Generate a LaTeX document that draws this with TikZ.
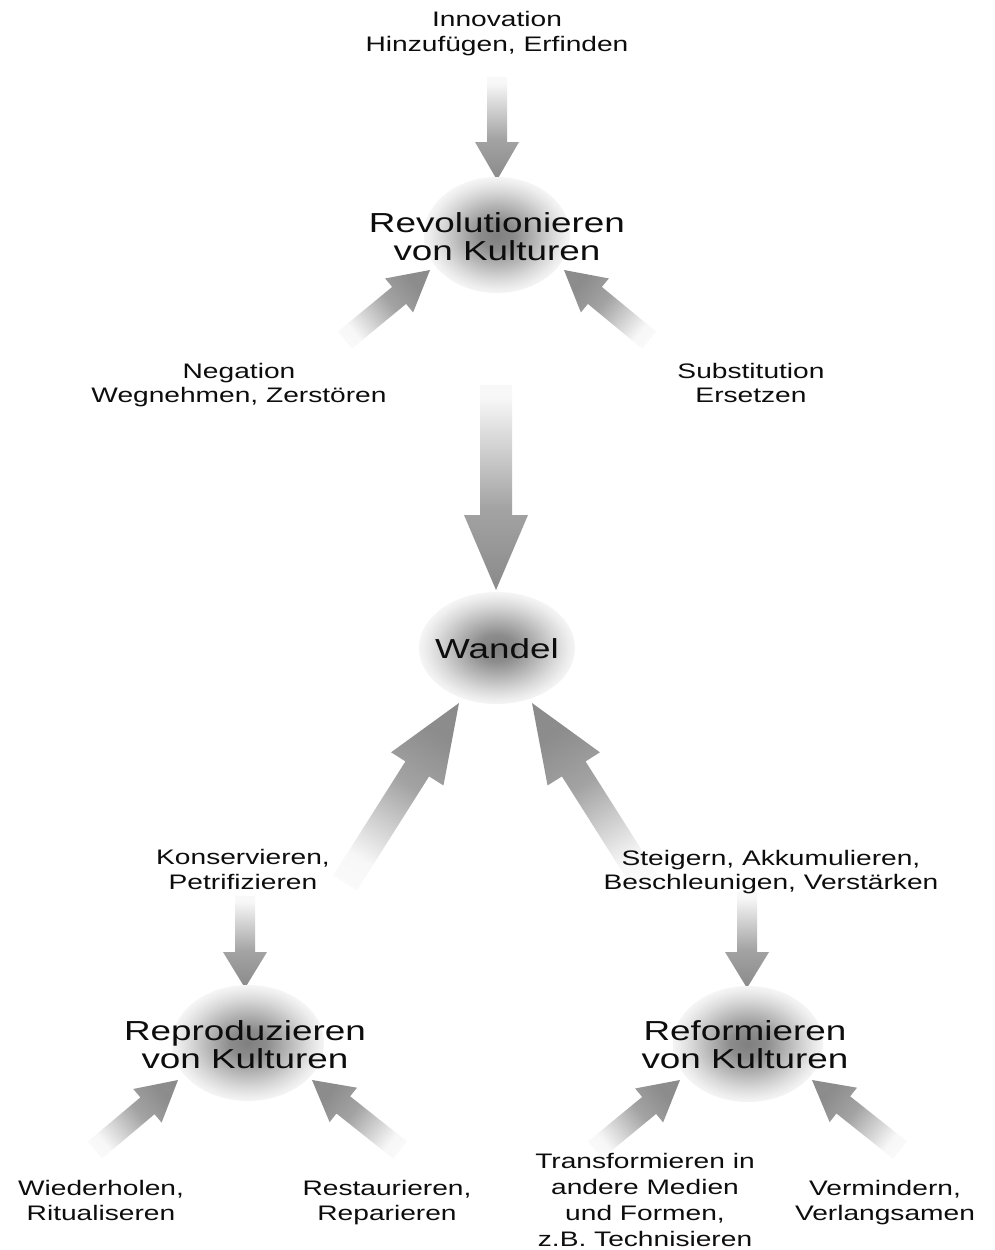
\documentclass[tikz,border=0pt]{standalone}
\usepackage{fontspec}
\setmainfont{Liberation Sans}[FakeStretch=1.34]
\usetikzlibrary{calc}
\pgfdeclareverticalshading{arrowshade}{100bp}{color(0bp)=(black!46); color(27bp)=(black!45); color(45bp)=(black!36); color(72bp)=(black!3); color(100bp)=(white)}
\pgfdeclareradialshading{blobshade}{\pgfpoint{0bp}{0bp}}{color(0bp)=(black!50); color(6bp)=(black!45); color(12.5bp)=(black!30); color(19bp)=(black!15); color(23bp)=(black!7); color(25bp)=(black!4); color(50bp)=(black!4)}
% #1 tail, #2 tip, #3 half shaft width, #4 half head width, #5 head length
\newcommand\fatarrow[5]{%
  \pgfmathanglebetweenpoints{\pgfpointanchor{#1}{center}}{\pgfpointanchor{#2}{center}}%
  \pgfmathsetmacro\fatangle{\pgfmathresult+90}%
  \coordinate (fah) at ($(#2)!#5!(#1)$);
  \shade[shading=arrowshade, shading angle=\fatangle]
    ($(#1)!#3!90:(#2)$) -- ($(fah)!#3!90:(#2)$) -- ($(fah)!#4!90:(#2)$) -- (#2)
    -- ($(fah)!#4!-90:(#2)$) -- ($(fah)!#3!-90:(#2)$) -- ($(#1)!#3!-90:(#2)$) -- cycle;
}
\tikzset{
  lbl/.style={anchor=base, inner sep=0pt, font=\fontsize{21}{25}\selectfont, text=black!95},
  big/.style={anchor=base, inner sep=0pt, font=\fontsize{27.5}{29}\selectfont, text=black!95},
  blob/.style={shading=blobshade},
}
\begin{document}
\begin{tikzpicture}[x=1pt,y=-1pt]
\fill[white] (0,0) rectangle (994,1250);
\useasboundingbox (0,0) rectangle (994,1250);

% arrow end points
\coordinate (innoT) at (497,77);   \coordinate (innoP) at (497,180);
\coordinate (negT) at (345,340);   \coordinate (negP) at (430,270);
\coordinate (subT) at (649,340);   \coordinate (subP) at (564,270);
\coordinate (revT) at (496,385);   \coordinate (revP) at (496,590);
\coordinate (konT) at (345,883);   \coordinate (konP) at (459,703);
\coordinate (steT) at (646,883);   \coordinate (steP) at (532,703);
\coordinate (kdT) at (245,896);    \coordinate (kdP) at (245,988);
\coordinate (sdT) at (747,892);    \coordinate (sdP) at (747,988);
\coordinate (wieT) at (95,1150);   \coordinate (wieP) at (178,1080);
\coordinate (resT) at (400,1150);  \coordinate (resP) at (312,1080);
\coordinate (traT) at (595,1150);  \coordinate (traP) at (680,1080);
\coordinate (verT) at (900,1150);  \coordinate (verP) at (812,1080);

% arrows
\fatarrow{innoT}{innoP}{10pt}{22pt}{38pt}
\fatarrow{negT}{negP}{11pt}{22pt}{40pt}
\fatarrow{subT}{subP}{11pt}{22pt}{40pt}
\fatarrow{revT}{revP}{16pt}{32pt}{75pt}
\fatarrow{konT}{konP}{14pt}{31pt}{78pt}
\fatarrow{steT}{steP}{14pt}{31pt}{78pt}
\fatarrow{kdT}{kdP}{10pt}{22pt}{36pt}
\fatarrow{sdT}{sdP}{10pt}{22pt}{36pt}
\fatarrow{wieT}{wieP}{11pt}{22pt}{40pt}
\fatarrow{resT}{resP}{11pt}{22pt}{40pt}
\fatarrow{traT}{traP}{11pt}{22pt}{40pt}
\fatarrow{verT}{verP}{11pt}{22pt}{40pt}

% blobs
\shade[blob] (497,235) ellipse [x radius=73, y radius=58];
\shade[blob] (497,648) ellipse [x radius=78, y radius=56];
\shade[blob] (248,1043) ellipse [x radius=76, y radius=58];
\shade[blob] (748,1044) ellipse [x radius=75, y radius=58];

% texts
\node[lbl] (inno1) at (497,26) {Innovation};
\node[lbl] (inno2) at (497,51) {Hinzufügen, Erfinden};
\node[big] (rev1) at (497,232) {Revolutionieren};
\node[big] (rev2) at (497,260) {von Kulturen};
\node[lbl] (neg1) at (239,378) {Negation};
\node[lbl] (neg2) at (239,402) {Wegnehmen, Zerstören};
\node[lbl] (sub1) at (751,378) {Substitution};
\node[lbl] (sub2) at (751,402) {Ersetzen};
\node[big] (wan) at (497,658) {Wandel};
\node[lbl] (kon1) at (243,864) {Konservieren,};
\node[lbl] (kon2) at (243,889) {Petrifizieren};
\node[lbl] (ste1) at (771,865) {Steigern, Akkumulieren,};
\node[lbl] (ste2) at (771,889) {Beschleunigen, Verstärken};
\node[big] (rep1) at (245,1040) {Reproduzieren};
\node[big] (rep2) at (245,1068) {von Kulturen};
\node[big] (ref1) at (745,1040) {Reformieren};
\node[big] (ref2) at (745,1068) {von Kulturen};
\node[lbl] (wie1) at (101,1195) {Wiederholen,};
\node[lbl] (wie2) at (101,1220) {Ritualiseren};
\node[lbl] (res1) at (387,1195) {Restaurieren,};
\node[lbl] (res2) at (387,1220) {Reparieren};
\node[lbl] (tra1) at (645,1168) {Transformieren in};
\node[lbl] (tra2) at (645,1194) {andere Medien};
\node[lbl] (tra3) at (645,1220) {und Formen,};
\node[lbl] (tra4) at (645,1246) {z.B. Technisieren};
\node[lbl] (ver1) at (885,1195) {Vermindern,};
\node[lbl] (ver2) at (885,1220) {Verlangsamen};
\end{tikzpicture}
\end{document}
